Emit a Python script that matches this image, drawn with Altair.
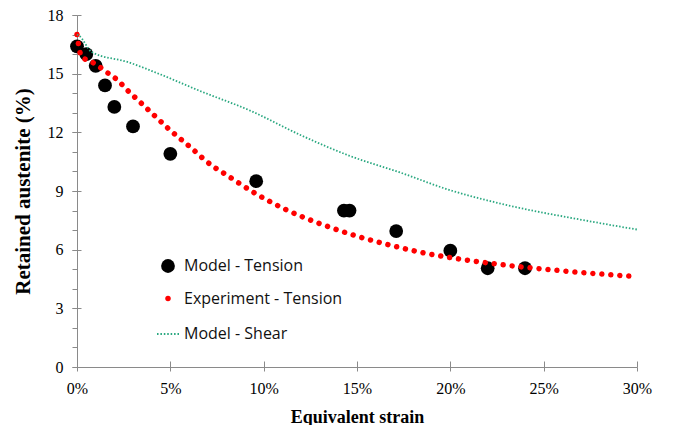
import altair as alt
import pandas as pd

# ---- data (strain as fraction, retained austenite in %) ----
model_x = [0.0, 0.005, 0.010, 0.015, 0.020, 0.030, 0.050, 0.096, 0.143, 0.146, 0.171, 0.200, 0.220, 0.240]
model_y = [16.4, 16.0, 15.4, 14.4, 13.3, 12.3, 10.9, 9.5, 8.0, 8.0, 6.95, 5.95, 5.05, 5.05]

exp_x = [0.0, 0.0025, 0.007, 0.012, 0.017, 0.022, 0.0265, 0.0315, 0.036, 0.041, 0.050, 0.060,
         0.073, 0.078, 0.096, 0.113, 0.131, 0.148, 0.169, 0.185, 0.203, 0.226, 0.262, 0.300]
exp_y = [17.0, 15.85, 15.65, 15.35, 15.0, 14.65, 14.2, 13.75, 13.35, 12.9, 12.1, 11.3,
         10.25, 9.95, 8.85, 8.0, 7.3, 6.75, 6.2, 5.85, 5.55, 5.25, 4.9, 4.62]

shear_x = [0.0, 0.001, 0.008, 0.027, 0.045, 0.065, 0.093, 0.120, 0.146, 0.173, 0.198, 0.234, 0.269, 0.300]
shear_y = [17.0, 16.95, 16.1, 15.6, 14.95, 14.15, 13.1, 11.85, 10.8, 9.95, 9.1, 8.2, 7.55, 7.03]

series = ["Model - Tension", "Experiment - Tension", "Model - Shear"]
x_ticks = [0.0, 0.05, 0.10, 0.15, 0.20, 0.25, 0.30]
y_major = [0, 3, 6, 9, 12, 15, 18]
y_minor = list(range(0, 19))

# ---- styles ----
W, H = 560, 352
colors = ["#000000", "#ff0000", "#2aa880"]
dotted = " ".join(
    f"M{c - 0.07:.3f},-0.08h0.14v0.16h-0.14Z" for c in [-0.93 + i * 0.31 for i in range(7)]
)
shapes = ["circle", "circle", dotted]
sizes = [190, 30, 484]
AX = "#8a8a8a"

df_model = pd.DataFrame({"strain": model_x, "ra": model_y, "series": series[0]})
df_exp = pd.DataFrame({"strain": exp_x, "ra": exp_y})
df_shear = pd.DataFrame({"strain": shear_x, "ra": shear_y})

xs = alt.Scale(domain=[0, 0.3], nice=False, zero=False)
ys = alt.Scale(domain=[0, 18], nice=False)

common = dict(grid=False, domainColor=AX, tickColor=AX, labelFont="Liberation Serif",
              labelFontSize=16, labelColor="black", titleFont="Liberation Serif",
              titleFontWeight="bold", titleColor="black", labelFlush=False)

pts = alt.Chart(df_model).mark_point(filled=True, opacity=1).encode(
    x=alt.X("strain:Q", scale=xs, axis=alt.Axis(
        orient="bottom", values=x_ticks, format=".0%", tickSize=4, labelPadding=9,
        title="Equivalent strain", titleFontSize=18, titleBaseline="alphabetic", titleY=55,
        **common)),
    y=alt.Y("ra:Q", scale=ys, axis=alt.Axis(
        orient="left", values=y_major, tickSize=5, labelPadding=9,
        title="Retained austenite (%)", titleFontSize=21, titleBaseline="alphabetic",
        titleX=-48, **common)),
    color=alt.Color("series:N", title=None, scale=alt.Scale(domain=series, range=colors)),
    shape=alt.Shape("series:N", title=None, scale=alt.Scale(domain=series, range=shapes)),
    size=alt.Size("series:N", title=None,
                  scale=alt.Scale(type="ordinal", domain=series, range=sizes)),
)

exp = alt.Chart(df_exp).mark_line(
    color="#ff0000", strokeWidth=5.5, strokeDash=[0.01, 9], strokeCap="round",
    interpolate="monotone"
).encode(
    x=alt.X("strain:Q", scale=xs, axis=alt.Axis(
        orient="top", offset=-H, values=x_ticks, labels=False, domain=False,
        tickSize=6, title=None, tickColor=AX, grid=False)),
    y=alt.Y("ra:Q", scale=ys, axis=alt.Axis(
        orient="right", offset=-W, values=y_major, labels=False, domain=False,
        tickSize=4, title=None, tickColor=AX, grid=False)),
)

shear = alt.Chart(df_shear).mark_line(
    color="#2aa880", strokeWidth=1.8, strokeDash=[1.5, 1.8], interpolate="monotone"
).encode(
    x=alt.X("strain:Q", scale=xs, axis=None),
    y=alt.Y("ra:Q", scale=ys, axis=alt.Axis(
        orient="left", values=y_minor, labels=False, domain=False,
        tickSize=5, title=None, tickColor=AX, grid=False)),
)

chart = alt.layer(pts, exp, shear).resolve_scale(
    x="independent", y="independent"
).properties(
    width=W, height=H,
    padding={"left": 69, "top": 7, "right": 30, "bottom": 58},
    autosize=alt.AutoSizeParams(type="none"),
).configure_view(stroke=None).configure_legend(
    orient="none", legendX=80, legendY=243, labelFont="Open Sans", labelFontSize=16,
    labelColor="#111111", labelOffset=5, rowPadding=16.5, symbolStrokeWidth=0,
)

chart.save("out.html", embed_options={"renderer": "svg", "actions": False})
